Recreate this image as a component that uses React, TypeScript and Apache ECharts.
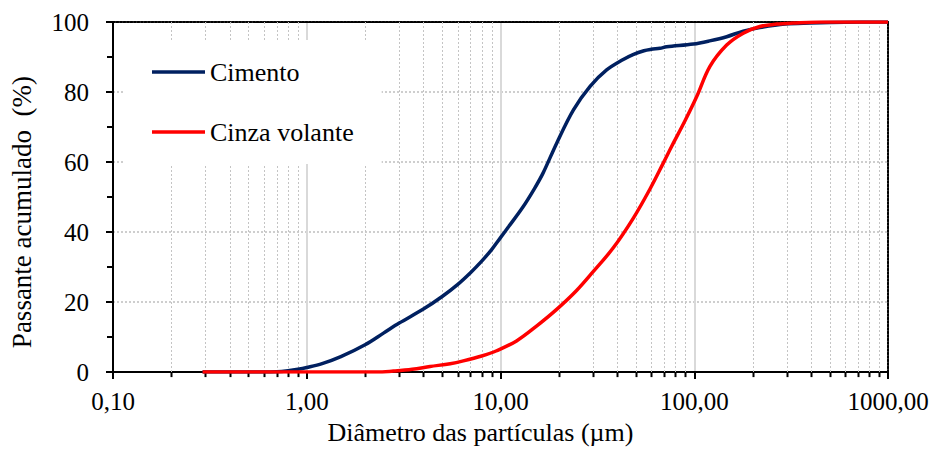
import React, { useEffect, useRef } from "react";
import * as echarts from "echarts";

const cimentoD = [0.29, 0.35, 0.4, 0.5, 0.6, 0.7, 0.8, 0.9, 1.0, 1.2, 1.5, 2.0, 2.5, 3, 4, 5, 6, 7, 8, 9, 10, 11, 13, 15, 16.6, 19.5, 23.8, 29, 35.3, 43, 48.3, 55, 60, 66.5, 72, 99, 120, 147, 179, 218, 294, 395, 600, 1000];
const cimentoY = [0, 0, 0, 0, 0, 0.1, 0.4, 0.8, 1.3, 2.4, 4.4, 7.8, 11.2, 14, 18, 21.6, 25.0, 28.4, 31.7, 35, 38.4, 41.5, 47, 52.5, 56.9, 65.4, 74.9, 81.6, 86.3, 89.3, 90.7, 91.8, 92.2, 92.5, 92.9, 93.7, 94.6, 95.8, 97.4, 98.4, 99.4, 99.7, 99.95, 100];

const cinzaD = [0.29, 0.5, 1, 2, 2.3, 2.8, 3.5, 4.33, 5.5, 6.43, 8, 9.55, 12.1, 15.4, 19.5, 24.7, 30, 38.2, 48.5, 59.1, 69.2, 76.5, 90, 103, 120.5, 147, 179, 218, 266, 324, 450, 1000];
const cinzaY = [0, 0, 0, 0, 0, 0.3, 0.8, 1.6, 2.4, 3.2, 4.6, 6.1, 8.9, 13.2, 17.9, 23.3, 28.6, 35.5, 44, 52.3, 59.7, 64.5, 72, 78.7, 87.3, 93.4, 96.8, 98.7, 99.4, 99.7, 100, 100];

const xTickLabels = ["0,10", "1,00", "10,00", "100,00", "1000,00"];
const xMinorTicks = [0.2, 0.3, 0.4, 0.5, 0.6, 0.7, 0.8, 0.9, 2, 3, 4, 5, 6, 7, 8, 9, 20, 30, 40, 50, 60, 70, 80, 90, 200, 300, 400, 500, 600, 700, 800, 900];

const FONT = "Liberation Serif";

export default function App() {
  const ref = useRef<HTMLDivElement>(null);
  useEffect(() => {
    if (!ref.current) return;
    const chart = echarts.init(ref.current, null, { renderer: "svg" });
    const option: any = {
      animation: false,
      backgroundColor: "#fff",
      grid: { left: 113, right: 47, top: 22, bottom: 74 },
      legend: {
        orient: "vertical",
        left: 125,
        top: 40,
        padding: [17, 28, 17, 27],
        itemGap: 30,
        itemWidth: 53,
        itemHeight: 3.5,
        icon: "rect",
        backgroundColor: "#fff",
        data: ["Cimento", "Cinza volante"],
        textStyle: { fontFamily: FONT, fontSize: 26, color: "#000", lineHeight: 30, padding: [0, 0, 0, 0] },
        z: 5,
      },
      xAxis: [
        {
          type: "log",
          logBase: 10,
          min: 0.1,
          max: 1000,
          name: "Diâmetro das partículas (µm)",
          nameLocation: "middle",
          nameGap: 45,
          nameTextStyle: { fontFamily: FONT, fontSize: 26, color: "#000", padding: [0, 40, 0, 0] },
          axisLine: { show: true, onZero: false, lineStyle: { color: "#000", width: 2 } },
          axisTick: { show: true, inside: false, length: 7, lineStyle: { color: "#000", width: 2 } },
          axisLabel: {
            fontFamily: FONT,
            fontSize: 25,
            color: "#000",
            margin: 17,
            formatter: (v: number, i: number) => xTickLabels[i] ?? v.toFixed(2).replace(".", ","),
          },
          splitLine: { show: true, lineStyle: { color: "#d9d9d9", width: 2 } },
          minorTick: { show: false },
        },
        {
          type: "log",
          logBase: 10,
          min: 0.1,
          max: 1000,
          position: "top",
          axisLine: { show: true, onZero: false, lineStyle: { color: "#000", width: 2, type: [2, 1.5] } },
          axisTick: { show: false },
          axisLabel: { show: false },
          splitLine: { show: false },
        },
      ],
      yAxis: [
        {
          type: "value",
          min: 0,
          max: 100,
          interval: 20,
          name: "Passante acumulado  (%)",
          nameLocation: "middle",
          nameGap: 78,
          nameTextStyle: { fontFamily: FONT, fontSize: 27, color: "#000", padding: [0, 30, 0, 0] },
          axisLine: { show: true, lineStyle: { color: "#000", width: 2 } },
          axisTick: { show: true, inside: false, length: 7, lineStyle: { color: "#000", width: 2 } },
          minorTick: { show: true, splitNumber: 2, length: 6, lineStyle: { color: "#000", width: 2 } },
          axisLabel: { fontFamily: FONT, fontSize: 25, color: "#000", margin: 24 },
          splitLine: { show: true, lineStyle: { color: "#bfbfbf", width: 1.5, type: [2, 2] } },
        },
        {
          type: "value",
          min: 0,
          max: 100,
          position: "right",
          axisLine: { show: true, lineStyle: { color: "#000", width: 2, type: [2, 1.5] } },
          axisTick: { show: false },
          axisLabel: { show: false },
          splitLine: { show: false },
        },
      ],
      series: [
        {
          type: "custom",
          silent: true,
          z: 1,
          xAxisIndex: 0,
          yAxisIndex: 0,
          encode: { x: 0, y: 1 },
          data: xMinorTicks.map((v) => [v, 0]),
          renderItem: (params: any, api: any) => {
            const cs = params.coordSys;
            const x = Math.round(api.coord([api.value(0), 0])[0]) + 0.5;
            const bottom = cs.y + cs.height;
            return {
              type: "group",
              children: [
                {
                  type: "line",
                  shape: { x1: x, y1: cs.y, x2: x, y2: bottom },
                  style: { stroke: "#c4c4c4", lineWidth: 1, lineDash: [2, 2] },
                },
                {
                  type: "line",
                  shape: { x1: x, y1: bottom, x2: x, y2: bottom + 5 },
                  style: { stroke: "#000", lineWidth: 2 },
                },
              ],
            };
          },
        },
        {
          name: "Cimento",
          type: "line",
          z: 3,
          showSymbol: false,
          smooth: 0.35,
          lineStyle: { color: "#002060", width: 3.5 },
          itemStyle: { color: "#002060" },
          data: cimentoD.map((d, i) => [d, cimentoY[i]]),
        },
        {
          name: "Cinza volante",
          type: "line",
          z: 3,
          showSymbol: false,
          smooth: 0.35,
          lineStyle: { color: "#ff0000", width: 3.5 },
          itemStyle: { color: "#ff0000" },
          data: cinzaD.map((d, i) => [d, cinzaY[i]]),
        },
      ],
    };
    chart.setOption(option);
    return () => chart.dispose();
  }, []);
  return (
    <div
      ref={ref}
      style={{ position: "fixed", left: 0, top: 0, width: 935, height: 450, background: "#fff" }}
    />
  );
}
